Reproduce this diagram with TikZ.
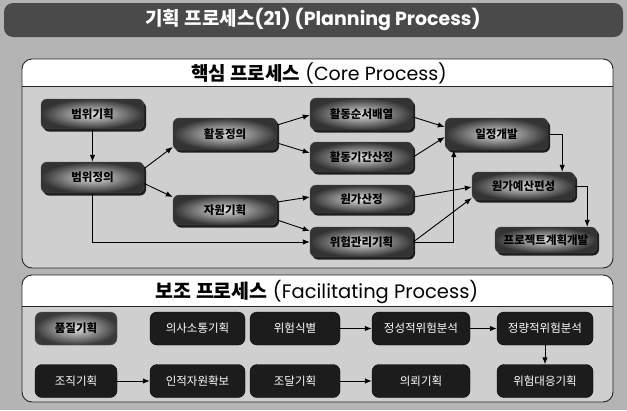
\documentclass[tikz,border=0pt]{standalone}
\usepackage{fontspec}
\setmainfont{Poppins}
\newfontfamily\kr{Noto Sans CJK KR}
\usetikzlibrary{arrows.meta,shadows,calc}
\definecolor{bgout}{HTML}{B4B4B4}
\definecolor{panel}{HTML}{CFCFCF}
\definecolor{titlebar}{HTML}{4A4A4A}
\definecolor{darkbox}{HTML}{1C1C1C}
\tikzset{
  coreb/.style={rounded corners=6pt, minimum height=30pt, inner sep=1pt,
    shade, inner color=white!75!gray, outer color=gray!40!black,
    draw=black!70, line width=0.4pt,
    drop shadow={shadow xshift=2pt, shadow yshift=-2.5pt, fill=black, opacity=0.85},
    font=\kr\bfseries\fontsize{11.5}{13}\selectfont, text=black},
  facb/.style={rounded corners=7pt, minimum height=33pt, inner sep=1pt,
    fill=darkbox, draw=black, text=white,
    font=\kr\fontsize{11.5}{13}\selectfont},
  facl/.style={rounded corners=7pt, minimum height=33pt, inner sep=1pt,
    shade, inner color=white!75!gray, outer color=gray!45!black, draw=black!70,
    text=black, font=\kr\bfseries\fontsize{11.5}{13}\selectfont},
  conn/.style={draw=black, line width=0.9pt, -{Latex[length=7pt,width=5.5pt]}},
}
\begin{document}
\begin{tikzpicture}[x=1pt,y=-1pt]
\useasboundingbox (0,0) rectangle (627,410);
\fill[bgout] (0,0) rectangle (627,410);
% title bar
\fill[titlebar, rounded corners=9pt] (4,3) rectangle (623,37);
\node (title) at (313,19) {\fontsize{19}{22}\selectfont\bfseries\color{white}{\kr 기획 프로세스}(21) (Planning Process)};
% core panel
\fill[panel, rounded corners=10pt] (22,59) rectangle (613,268);
\begin{scope}
  \clip[rounded corners=10pt] (22,59) rectangle (613,268);
  \fill[white] (22,59) rectangle (613,86);
\end{scope}
\draw[black!85, line width=0.8pt] (22,86) -- (613,86);
\draw[black!85, line width=0.9pt, rounded corners=10pt] (22,59) rectangle (613,268);
\node (coret) at (319,73) {\fontsize{19}{22}\selectfont{\kr\bfseries 핵심 프로세스} (Core Process)};
% facilitating panel
\fill[panel, rounded corners=10pt] (22,275) rectangle (613,402);
\begin{scope}
  \clip[rounded corners=10pt] (22,275) rectangle (613,402);
  \fill[white] (22,275) rectangle (613,306);
\end{scope}
\draw[black!85, line width=0.8pt] (22,306) -- (613,306);
\draw[black!85, line width=0.9pt, rounded corners=10pt] (22,275) rectangle (613,402);
\node (fact) at (317,292) {\fontsize{19.5}{22}\selectfont{\kr\bfseries 보조 프로세스} (Facilitating Process)};
% core nodes
\node[coreb, minimum width=103pt] (bg) at (92.5,114) {범위기획};
\node[coreb, minimum width=103pt, minimum height=31pt] (bd) at (92.5,177.5) {범위정의};
\node[coreb, minimum width=104pt, minimum height=32pt] (ad) at (225,134) {활동정의};
\node[coreb, minimum width=104pt] (jw) at (225,210) {자원기획};
\node[coreb, minimum width=103pt, minimum height=32pt] (hs) at (361.5,114) {활동순서배열};
\node[coreb, minimum width=103pt] (hg) at (361.5,157) {활동기간산정};
\node[coreb, minimum width=103pt, minimum height=28pt] (wg) at (361.5,199) {원가산정};
\node[coreb, minimum width=103pt] (wh) at (361.5,242) {위험관리기획};
\node[coreb, minimum width=103pt, minimum height=32pt] (il) at (496.5,134) {일정개발};
\node[coreb, minimum width=103pt, minimum height=28pt] (wy) at (523.5,186) {원가예산편성};
\node[coreb, minimum width=102pt, minimum height=26pt] (pj) at (546,240) {프로젝트계획개발};
% core connectors
\draw[conn] (bg.south) -- (bd.north);
\draw[conn] ([yshift=9pt]bd.east) -- ([yshift=-13pt]ad.west);
\draw[conn] ([yshift=-6pt]bd.east) -- ([yshift=13pt]jw.west);
\draw[conn] (bd.south) |- (wh.west);
\draw[conn] ([yshift=9pt]ad.east) -- ([yshift=-1pt]hs.west);
\draw[conn] ([yshift=-9pt]ad.east) -- ([yshift=4pt]hg.west);
\draw[conn] ([yshift=8pt]jw.east) -- ([yshift=2pt]wg.west);
\draw[conn] ([yshift=-10pt]jw.east) -- ([yshift=11pt]wh.west);
\draw[conn] ([yshift=-3pt]hs.east) -- ([yshift=7pt]il.west);
\draw[conn] (hg.east) -- ([yshift=-3pt]il.west);
\draw[conn] ([yshift=2pt]wg.east) -- ([yshift=-1pt]wy.west);
\draw[conn] (wh.east) -- ([yshift=-12pt]wy.west);
\draw[conn] (wh.east) -| ([xshift=9pt]il.south west);
\draw[conn] (il.east) -| ([xshift=-13pt]wy.north east);
\draw[conn] (wy.east) -| ([xshift=-10pt]pj.north east);
% facilitating nodes
\node[facl, minimum width=82pt] (fp) at (76,328.5) {품질기획};
\node[facb, minimum width=95pt] (fu) at (197.5,328.5) {의사소통기획};
\node[facb, minimum width=90pt] (fr) at (295,328.5) {위험식별};
\node[facb, minimum width=98pt] (fq) at (421,328.5) {정성적위험분석};
\node[facb, minimum width=96pt] (fn) at (545,328.5) {정량적위험분석};
\node[facb, minimum width=82pt] (fo) at (76,381) {조직기획};
\node[facb, minimum width=95pt] (fh) at (197.5,381) {인적자원확보};
\node[facb, minimum width=90pt] (fd) at (295,381) {조달기획};
\node[facb, minimum width=98pt] (fc) at (421,381) {의뢰기획};
\node[facb, minimum width=96pt] (fa) at (545,381) {위험대응기획};
% facilitating connectors
\draw[conn] (fo.east) -- (fh.west);
\draw[conn] (fr.east) -- (fq.west);
\draw[conn] (fq.east) -- (fn.west);
\draw[conn] (fn.south) -- (fa.north);
\draw[conn] (fd.east) -- (fc.west);
\end{tikzpicture}
\end{document}
